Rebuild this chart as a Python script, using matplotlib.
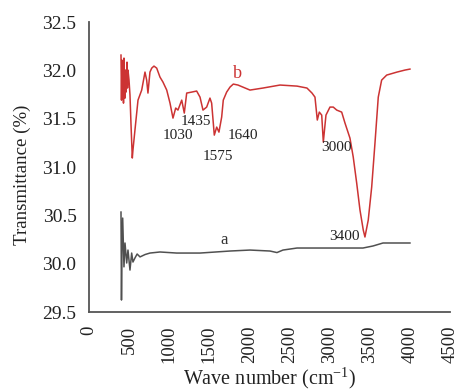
import matplotlib
matplotlib.use("Agg")
import matplotlib.pyplot as plt

plt.rcParams['font.family'] = ['Liberation Serif', 'DejaVu Serif']
plt.rcParams['mathtext.fontset'] = 'custom'
plt.rcParams['mathtext.rm'] = 'Liberation Serif'
plt.rcParams['mathtext.it'] = 'Liberation Serif:italic'

# Curve b (red)
wave_b = [399, 405, 411, 418, 424, 430, 436, 449, 455, 461, 474, 480, 486, 499, 511, 524,
          540, 548, 573, 611, 657, 673, 698, 719, 735, 760, 782, 810, 844, 885, 922, 969,
          1010, 1047, 1081, 1109, 1156, 1188, 1218, 1280, 1342, 1384, 1421, 1467, 1508,
          1529, 1562, 1592, 1620, 1654, 1674, 1716, 1758, 1799, 1857, 2007, 2169, 2381,
          2593, 2717, 2780, 2817, 2846, 2871, 2901, 2921, 2954, 3004, 3045, 3088, 3150,
          3191, 3253, 3294, 3337, 3378, 3419, 3440, 3481, 3524, 3565, 3606, 3648, 3711,
          3839, 3939, 4001]
trans_b = [32.158, 31.692, 32.106, 31.744, 32.054, 31.661, 32.127, 31.713, 32.003, 31.775,
           32.085, 31.817, 32.003, 31.899, 31.744, 31.434, 31.093, 31.175, 31.382, 31.692,
           31.796, 31.868, 31.982, 31.899, 31.765, 31.982, 32.023, 32.044, 32.023, 31.930,
           31.879, 31.796, 31.661, 31.506, 31.610, 31.589, 31.692, 31.558, 31.765, 31.775,
           31.786, 31.723, 31.589, 31.620, 31.713, 31.661, 31.330, 31.413, 31.361, 31.517,
           31.692, 31.775, 31.827, 31.858, 31.848, 31.796, 31.817, 31.848, 31.837, 31.817,
           31.765, 31.723, 31.486, 31.568, 31.537, 31.258, 31.537, 31.620, 31.620, 31.589,
           31.568, 31.455, 31.299, 31.103, 30.834, 30.555, 30.348, 30.276, 30.451, 30.793,
           31.248, 31.723, 31.899, 31.951, 31.982, 32.003, 32.013]

# Curve a (gray)
wave_a = [399, 405, 411, 420, 436, 449, 470, 486, 511, 532, 548, 573, 600, 636, 700, 760,
          885, 1093, 1384, 1758, 2007, 2256, 2343, 2418, 2593, 3004, 3415, 3540, 3665, 4001]
trans_a = [30.534, 29.624, 30.141, 30.472, 29.967, 30.214, 30.007, 30.141, 29.934, 30.110,
           30.017, 30.059, 30.100, 30.070, 30.095, 30.110, 30.121, 30.110, 30.110, 30.131,
           30.141, 30.131, 30.115, 30.141, 30.162, 30.162, 30.162, 30.183, 30.214, 30.214]

# Peak annotations (label, x, y)
peak_labels = ['1030', '1435', '1575', '1640', '3000', '3400']
peak_x = [1110, 1334, 1608, 1925, 3079, 3180]
peak_y = [31.33, 31.47, 31.11, 31.33, 31.20, 30.28]

xticks = [0, 500, 1000, 1500, 2000, 2500, 3000, 3500, 4000, 4500]
yticks = [29.5, 30.0, 30.5, 31.0, 31.5, 32.0, 32.5]

fig = plt.figure(figsize=(4.58, 3.91), dpi=100)
ax = fig.add_axes([0.1943, 0.202, 0.7882, 0.7417])

red = '#cc3333'
gray = '#505050'
ax.plot(wave_b, trans_b, color=red, lw=1.1)
ax.plot(wave_a, trans_a, color=gray, lw=1.1)

for lab, x, y in zip(peak_labels, peak_x, peak_y):
    ax.text(x, y, lab, fontsize=11, ha='center', va='center', color='#222222')
ax.text(1845, 31.97, 'b', fontsize=13, ha='center', va='center', color=red)
ax.text(1683, 30.25, 'a', fontsize=12, ha='center', va='center', color='#333333')

ax.set_xlim(0, 4500)
ax.set_ylim(29.5, 32.5)
ax.set_xticks(xticks)
ax.set_xticklabels([str(t) for t in xticks], rotation=90)
ax.set_yticks(yticks)
ax.set_yticklabels([f'{t:.1f}' for t in yticks])
ax.tick_params(length=0, labelsize=14, colors='#222222')
ax.tick_params(axis='x', labelsize=13.5, pad=10)
ax.tick_params(axis='y', pad=9)

for s in ['top', 'right']:
    ax.spines[s].set_visible(False)
for s in ['left', 'bottom']:
    ax.spines[s].set_color('#555555')
    ax.spines[s].set_linewidth(1.3)

ax.set_xlabel(r'Wave number (cm$^{\mathregular{-1}}$)', fontsize=14.5, color='#222222')
ax.set_ylabel('Transmittance (%)', fontsize=13.6, color='#222222')
ax.xaxis.set_label_coords(0.5, -0.228)
ax.xaxis.label.set_va('center')
ax.yaxis.set_label_coords(-0.185, 0.472)
ax.yaxis.label.set_va('center')

fig.savefig('out.png', dpi=100)
